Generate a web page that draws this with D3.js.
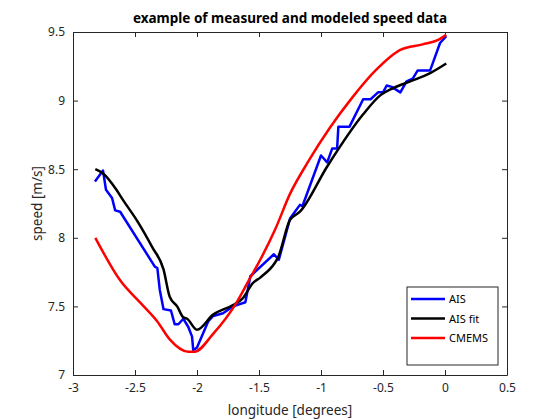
<!DOCTYPE html>
<html><head><meta charset="utf-8">
<script src="https://cdn.jsdelivr.net/npm/d3@7"></script>
<style>body{margin:0;background:#fff}text{font-family:"Noto Sans",sans-serif}</style>
</head><body><div id="chart"></div>
<script>
const ais = [[-2.823,8.41],[-2.758,8.49],[-2.734,8.35],[-2.685,8.29],[-2.66,8.2],[-2.62,8.19],[-2.34,7.79],[-2.32,7.78],[-2.3,7.62],[-2.27,7.48],[-2.21,7.47],[-2.18,7.37],[-2.15,7.37],[-2.11,7.41],[-2.07,7.35],[-2.04,7.28],[-2.03,7.18],[-2.0,7.2],[-1.91,7.39],[-1.87,7.43],[-1.79,7.45],[-1.71,7.5],[-1.61,7.53],[-1.57,7.72],[-1.38,7.88],[-1.34,7.84],[-1.25,8.14],[-1.17,8.24],[-1.15,8.23],[-1.0,8.6],[-0.95,8.55],[-0.91,8.65],[-0.87,8.65],[-0.86,8.81],[-0.77,8.81],[-0.66,9.01],[-0.6,9.01],[-0.54,9.06],[-0.5,9.06],[-0.47,9.11],[-0.43,9.1],[-0.36,9.06],[-0.31,9.14],[-0.26,9.16],[-0.22,9.22],[-0.12,9.22],[-0.1,9.27],[-0.04,9.42],[0.01,9.47]]
const aisFit = [[-2.82,8.5],[-2.76,8.47],[-2.65,8.35],[-2.6,8.28],[-2.48,8.12],[-2.36,7.93],[-2.27,7.77],[-2.22,7.57],[-2.16,7.5],[-2.11,7.42],[-2.08,7.41],[-2.0,7.33],[-1.87,7.44],[-1.71,7.51],[-1.63,7.56],[-1.55,7.67],[-1.49,7.71],[-1.37,7.82],[-1.35,7.85],[-1.25,8.13],[-1.17,8.19],[-0.95,8.52],[-0.66,8.9],[-0.52,9.04],[-0.42,9.09],[-0.28,9.14],[-0.12,9.2],[0.01,9.27]]
const cmems = [[-2.82,8.0],[-2.62,7.69],[-2.45,7.52],[-2.32,7.39],[-2.22,7.26],[-2.07,7.17],[-2.02,7.17],[-1.87,7.3],[-1.68,7.53],[-1.57,7.71],[-1.52,7.79],[-1.37,8.06],[-1.25,8.32],[-1.1,8.56],[-0.93,8.8],[-0.75,9.02],[-0.56,9.22],[-0.36,9.37],[-0.18,9.41],[-0.06,9.44],[0.01,9.48]]
const series = [{name:'AIS',data:ais,color:'#0000ff',smooth:false},{name:'AIS fit',data:aisFit,color:'#000000',smooth:true},{name:'CMEMS',data:cmems,color:'#ff0000',smooth:true}]
const xTicks = [-3,-2.5,-2,-1.5,-1,-0.5,0,0.5]
const yTicks = [7,7.5,8,8.5,9,9.5]

const margin = {top:32,left:73,right:53,bottom:45}
const W = 560, H = 420
const width = W - margin.left - margin.right, height = H - margin.top - margin.bottom
const svg = d3.select('#chart').append('svg').attr('width',W).attr('height',H)
const g = svg.append('g').attr('transform','translate('+margin.left+','+margin.top+')')
const x = d3.scaleLinear().domain([-3,0.5]).range([0,width])
const y = d3.scaleLinear().domain([7,9.5]).range([height,0])

const fmt = d => String(d)
g.append('g').attr('transform','translate(0,'+height+')').call(d3.axisBottom(x).tickValues(xTicks).tickFormat(fmt).tickSizeInner(-5).tickSizeOuter(0).tickPadding(8))
g.append('g').call(d3.axisLeft(y).tickValues(yTicks).tickFormat(fmt).tickSizeInner(-5).tickSizeOuter(0).tickPadding(8))
g.append('g').call(d3.axisTop(x).tickValues(xTicks).tickFormat('').tickSizeInner(-5).tickSizeOuter(0))
g.append('g').attr('transform','translate('+width+',0)').call(d3.axisRight(y).tickValues(yTicks).tickFormat('').tickSizeInner(-5).tickSizeOuter(0))
g.selectAll('.domain').attr('stroke','#262626')
g.selectAll('.tick line').attr('stroke','#262626')
g.selectAll('.tick text').attr('font-size',12).attr('fill','#262626').attr('font-family','Noto Sans')

const line = d3.line().x(d => x(d[0])).y(d => y(d[1]))
const smoothLine = d3.line().x(d => x(d[0])).y(d => y(d[1])).curve(d3.curveMonotoneX)
g.selectAll('.series').data(series).enter().append('path')
  .attr('class','series').attr('d',d => (d.smooth ? smoothLine : line)(d.data)).attr('fill','none')
  .attr('stroke',d => d.color).attr('stroke-width',2.5).attr('stroke-linejoin','round')

svg.append('text').attr('x',margin.left+width/2).attr('y',23).attr('text-anchor','middle')
  .attr('font-size',13.5).attr('font-weight','bold').text('example of measured and modeled speed data')
svg.append('text').attr('x',margin.left+width/2).attr('y',415).attr('text-anchor','middle')
  .attr('font-size',13.5).attr('fill','#262626').text('longitude [degrees]')
svg.append('text').attr('transform','translate(42,'+(margin.top+height/2)+') rotate(-90)').attr('text-anchor','middle')
  .attr('font-size',13.5).attr('fill','#262626').text('speed [m/s]')

const lg = svg.append('g').attr('transform','translate(407,287)')
lg.append('rect').attr('width',91).attr('height',78).attr('fill','#fff').attr('stroke','#262626')
series.forEach((s,i) => {
  const yy = 12 + i*19.5
  lg.append('line').attr('x1',4).attr('x2',38).attr('y1',yy).attr('y2',yy).attr('stroke',s.color).attr('stroke-width',2.5)
  lg.append('text').attr('x',42).attr('y',yy+4).attr('font-size',11).attr('fill','#000').text(s.name)
})
</script></body></html>
